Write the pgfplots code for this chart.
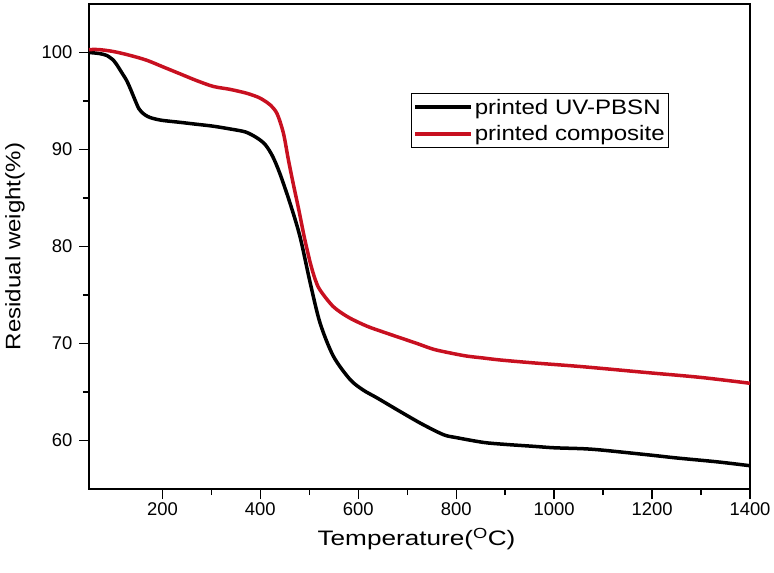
\documentclass[border=0pt]{standalone}
\usepackage{fontspec}
\setmainfont{Liberation Sans}
\newfontfamily\labfont[FakeStretch=1.15]{Liberation Sans}
\newfontfamily\widefont[FakeStretch=1.25]{Liberation Sans}
\usepackage{pgfplots}
\pgfplotsset{compat=1.18}
\definecolor{tgared}{RGB}{200,16,32}

\begin{document}
\begin{tikzpicture}
\begin{axis}[
  width=661bp, height=485bp,
  scale only axis,
  xmin=50, xmax=1400,
  ymin=55, ymax=105,
  xtick={200,400,...,1400},
  ytick={60,70,...,100},
  minor x tick num=1,
  minor y tick num=1,
  xtick pos=bottom, ytick pos=left,
  tick align=outside,
  major tick length=10bp,
  minor tick length=6bp,
  every tick/.style={black, line width=1.4bp},
  axis line style={line width=1.5bp},
  /pgf/number format/assume math mode=true,
  /pgf/number format/1000 sep={},
  ticklabel style={font=\fontsize{18.5}{20}\selectfont},
  yticklabel style={xshift=-3bp},
  xlabel={Temperature(\textsuperscript{O}C)},
  ylabel={Residual weight(\%)},
  xlabel style={font=\widefont\fontsize{21}{24}\selectfont,
    at={(axis description cs:0.5,0)}, anchor=center, yshift=-50bp, xshift=-3bp},
  ylabel style={font=\labfont\fontsize{21}{24}\selectfont,
    at={(axis description cs:0,0.5)}, anchor=center, yshift=74bp},
  legend style={at={(axis description cs:0.487,0.8165)}, anchor=north west,
    draw=black, line width=0.8bp, font=\labfont\fontsize{21}{24}\selectfont,
    inner xsep=2bp, inner ysep=3.5bp, row sep=6bp, cells={anchor=west}},
  legend image code/.code={\draw[#1] (0bp,0bp) -- (56bp,0bp);},
]
\addplot[black, line width=3.5bp, smooth] coordinates {
(50,100.0) (70,99.9) (86,99.7) (100,99.2) (106,98.8) (116,98.0) (127,97.1)
(135,96.2) (144,95.1) (152,94.2) (161,93.7) (170,93.4) (181,93.2) (200,93.0)
(236,92.8) (270,92.6) (304,92.4) (340,92.1) (370,91.8) (393,91.2) (410,90.5)
(425,89.3) (440,87.5) (461,84.4) (481,81.0) (502,76.2) (522,72.1) (549,68.7)
(583,66.3) (610,65.2) (638,64.4) (685,63.0) (730,61.7) (774,60.6) (800,60.3)
(856,59.8) (900,59.6) (958,59.4) (1000,59.25) (1060,59.15) (1100,59.0)
(1196,58.5) (1250,58.2) (1333,57.8) (1400,57.4)
};
\addlegendentry{printed UV-PBSN}
\addplot[tgared, line width=3.5bp, smooth] coordinates {
(50,100.3) (70,100.3) (100,100.1) (134,99.7) (168,99.2) (202,98.5) (236,97.8)
(270,97.1) (304,96.5) (338,96.2) (372,95.8) (395,95.4) (406,95.1) (420,94.6)
(434,93.7) (447,91.7) (457,89.0) (467,86.5) (478,83.9) (490,80.9) (502,78.3)
(512,76.6) (522,75.5) (549,73.8) (580,72.7) (617,71.8) (650,71.2) (685,70.6)
(720,70.0) (754,69.4) (790,69.0) (822,68.7) (856,68.5) (890,68.3) (958,68.0)
(1060,67.6) (1190,67.0) (1300,66.5) (1400,65.9)
};
\addlegendentry{printed composite}
\end{axis}
\pgfresetboundingbox
\path[use as bounding box] (current axis.south west) ++(-89bp,-84bp) rectangle ++(774bp,573bp);
\end{tikzpicture}
\end{document}
